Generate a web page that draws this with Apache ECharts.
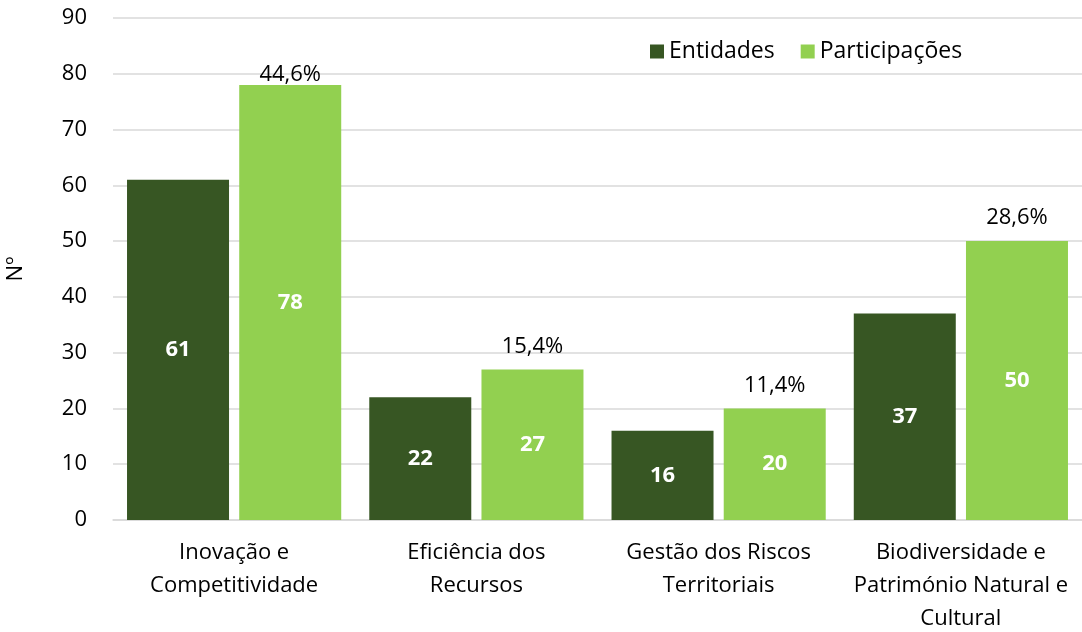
<!DOCTYPE html>
<html>
<head>
<meta charset="utf-8">
<script src="https://cdn.jsdelivr.net/npm/echarts@6/dist/echarts.min.js"></script>
<style>
  html, body { margin: 0; padding: 0; background: #fff; }
  #chart { width: 1082px; height: 632px; }
</style>
</head>
<body>
<div id="chart"></div>
<script>
const categories = [
  'Inovação e\nCompetitividade',
  'Eficiência dos\nRecursos',
  'Gestão dos Riscos\nTerritoriais',
  'Biodiversidade e\nPatrimónio Natural e\nCultural'
]
const entidades = [61, 22, 16, 37]
const participacoes = [78, 27, 20, 50]
const percentLabels = ['44,6%', '15,4%', '11,4%', '28,6%']
const yTicks = { min: 0, max: 90, interval: 10 }

const font = '"Open Sans", sans-serif'
const chart = echarts.init(document.getElementById('chart'))

const option = {
  animation: false,
  textStyle: { fontFamily: font },
  grid: { left: 113, right: 0, top: 18, bottom: 112, outerBoundsMode: 'none' },
  legend: {
    left: 645,
    top: 35,
    icon: 'rect',
    itemWidth: 14,
    itemHeight: 14,
    itemGap: 26,
    itemStyle: { borderWidth: 0 },
    textStyle: { fontSize: 23, color: '#000', fontFamily: font }
  },
  xAxis: {
    type: 'category',
    data: categories,
    axisLine: { lineStyle: { color: '#d9d9d9', width: 1.5 } },
    axisTick: { show: false },
    axisLabel: {
      interval: 0,
      fontSize: 22,
      color: '#000',
      lineHeight: 33,
      margin: 16
    }
  },
  yAxis: {
    type: 'value',
    min: yTicks.min,
    max: yTicks.max,
    interval: yTicks.interval,
    name: 'Nº',
    nameLocation: 'middle',
    nameGap: 86,
    nameTextStyle: { fontSize: 22, color: '#000' },
    axisLine: { show: false },
    axisTick: { show: false },
    axisLabel: { fontSize: 22, color: '#000', margin: 26 },
    splitLine: { lineStyle: { color: '#d9d9d9', width: 1.5 } }
  },
  series: [
    {
      name: 'Entidades',
      type: 'bar',
      data: entidades,
      barWidth: 102,
      barGap: '10%',
      itemStyle: { color: '#375623' },
      label: {
        show: true,
        position: 'inside',
        color: '#fff',
        fontWeight: 'bold',
        fontSize: 22
      }
    },
    {
      name: 'Participações',
      type: 'bar',
      data: participacoes,
      barWidth: 102,
      barGap: '10%',
      itemStyle: { color: '#92d050' },
      label: {
        show: true,
        position: 'inside',
        color: '#fff',
        fontWeight: 'bold',
        fontSize: 22
      },
      markPoint: {
        symbol: 'rect',
        symbolSize: 0,
        label: {
          show: true,
          position: 'top',
          distance: 2,
          color: '#000',
          fontSize: 22,
          formatter: p => p.name
        },
        data: participacoes.map((v, i) => ({
          name: percentLabels[i],
          coord: [i, v],
          label: { distance: i === 0 ? -1 : 12 }
        }))
      }
    }
  ]
}

chart.setOption(option)
</script>
</body>
</html>
